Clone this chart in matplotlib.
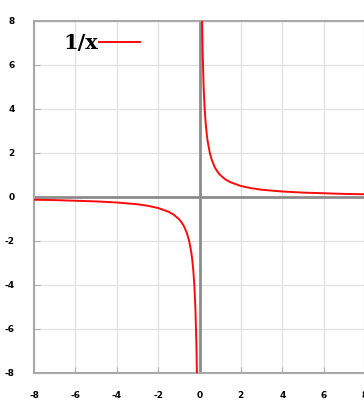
import matplotlib.pyplot as plt

plt.rcParams['axes.unicode_minus'] = False

# points, right branch and left branch
x_pos = [0.125, 0.15, 0.2, 0.25, 0.3, 0.35, 0.4, 0.5, 0.6, 0.75, 0.9, 1.0, 1.25, 1.5, 2.0, 2.5, 3.0, 4.0, 5.0, 6.0, 7.0, 8.0]
y_pos = [8.0, 6.67, 5.0, 4.0, 3.33, 2.86, 2.5, 2.0, 1.67, 1.33, 1.11, 1.0, 0.8, 0.67, 0.5, 0.4, 0.33, 0.25, 0.2, 0.17, 0.14, 0.125]
x_neg = [-8.0, -7.0, -6.0, -5.0, -4.0, -3.0, -2.5, -2.0, -1.5, -1.25, -1.0, -0.9, -0.75, -0.6, -0.5, -0.4, -0.35, -0.3, -0.25, -0.2, -0.15, -0.125]
y_neg = [-0.125, -0.14, -0.17, -0.2, -0.25, -0.33, -0.4, -0.5, -0.67, -0.8, -1.0, -1.11, -1.33, -1.67, -2.0, -2.5, -2.86, -3.33, -4.0, -5.0, -6.67, -8.0]
ticks = [-8, -6, -4, -2, 0, 2, 4, 6, 8]

fig = plt.figure(figsize=(3.64, 4.01), dpi=100)
ax = fig.add_axes([34 / 364, 28 / 401, 331 / 364, 352 / 401])

ax.axhline(0, color='#8c8c8c', linewidth=2, zorder=1)
ax.axvline(0, color='#8c8c8c', linewidth=2, zorder=1)
line, = ax.plot(x_pos, y_pos, color='#ff0a0a', linewidth=1.4, zorder=3)
ax.plot(x_neg, y_neg, color='#ff0a0a', linewidth=1.4, zorder=3)

ax.set_xlim(-8, 8)
ax.set_ylim(-8, 8)
ax.set_xticks(ticks)
ax.set_yticks(ticks)
ax.grid(color='#e0e0e0', linewidth=0.9)
ax.set_axisbelow(True)
ax.tick_params(direction='in', length=4, color='#b0b0b0', labelsize=6.5,
               labelcolor='black')
ax.tick_params(axis='x', pad=13)
ax.tick_params(axis='y', pad=14)
for lab in ax.get_xticklabels() + ax.get_yticklabels():
    lab.set_fontweight('bold')
for s in ax.spines.values():
    s.set_color('#a8a8a8')
    s.set_linewidth(1.5)

ax.legend([line], ['1/x'], loc='upper left', bbox_to_anchor=(0.065, 0.99),
          frameon=False, markerfirst=False, handlelength=2.0,
          prop={'family': 'serif', 'weight': 'bold', 'size': 15},
          labelcolor='black', handletextpad=0.0, borderaxespad=0)

fig.savefig('out.png', dpi=100)
